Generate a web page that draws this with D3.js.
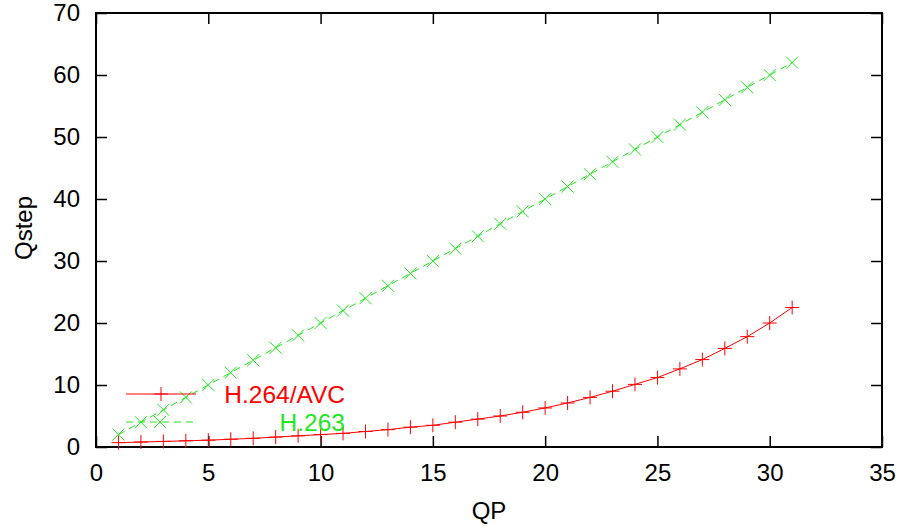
<!DOCTYPE html>
<html>
<head>
<meta charset="utf-8">
<script src="https://cdn.jsdelivr.net/npm/d3@7"></script>
<style>
  body { margin: 0; background: #fff; }
  svg { font-family: "Liberation Sans", Arial, sans-serif; }
</style>
</head>
<body>
<svg id="chart" width="900" height="526"></svg>
<script>
const qp = d3.range(1, 32);
const h264 = [0.7, 0.8, 0.9, 1.0, 1.1, 1.25, 1.4, 1.6, 1.8, 2.0, 2.2, 2.5, 2.8, 3.2, 3.5,
  4.0, 4.5, 5.0, 5.6, 6.3, 7.1, 8.0, 9.0, 10.1, 11.2, 12.6, 14.1, 15.9, 17.8, 20.0, 22.5];
const h263 = [2, 4, 6, 8, 10, 12, 14, 16, 18, 20, 22, 24, 26, 28, 30,
  32, 34, 36, 38, 40, 42, 44, 46, 48, 50, 52, 54, 56, 58, 60, 62];
const xTicks = [0, 5, 10, 15, 20, 25, 30, 35];
const yTicks = [0, 10, 20, 30, 40, 50, 60, 70];

const red = '#ff0000';
const green = '#1ee81e';
const plotLeft = 96, plotRight = 882, plotTop = 13, plotBottom = 447;
const svg = d3.select('#chart');

const x = d3.scaleLinear().domain([0, 35]).range([plotLeft, plotRight]);
const y = d3.scaleLinear().domain([0, 70]).range([plotBottom, plotTop]);

// axes, ticks pointing inward on all four sides
const tick = 11;
const styleAxis = g => {
  g.select('.domain').remove();
  g.selectAll('line').attr('stroke', '#000').attr('stroke-width', 1.5);
  g.selectAll('text').attr('fill', '#000').style('font-size', '24px');
};
svg.append('g').attr('transform', `translate(0,${plotBottom})`)
  .call(d3.axisBottom(x).tickValues(xTicks).tickSize(-tick).tickPadding(17))
  .call(styleAxis);
svg.append('g').attr('transform', `translate(0,${plotTop})`)
  .call(d3.axisTop(x).tickValues(xTicks).tickSize(-tick).tickFormat(''))
  .call(styleAxis);
svg.append('g').attr('transform', `translate(${plotLeft},0)`)
  .call(d3.axisLeft(y).tickValues(yTicks).tickSize(-tick).tickPadding(16))
  .call(styleAxis);
svg.append('g').attr('transform', `translate(${plotRight},0)`)
  .call(d3.axisRight(y).tickValues(yTicks).tickSize(-tick).tickFormat(''))
  .call(styleAxis);

svg.append('rect')
  .attr('x', plotLeft).attr('y', plotTop)
  .attr('width', plotRight - plotLeft).attr('height', plotBottom - plotTop)
  .attr('fill', 'none').attr('stroke', '#000').attr('stroke-width', 2);

svg.append('text')
  .attr('x', (plotLeft + plotRight) / 2).attr('y', 519)
  .attr('text-anchor', 'middle')
  .style('font-size', '24px')
  .text('QP');
svg.append('text')
  .attr('transform', 'translate(32,228) rotate(-90)')
  .attr('text-anchor', 'middle')
  .style('font-size', '24px')
  .text('Qstep');

// markers
const plus = (g, cx, cy, color) => {
  g.append('path')
    .attr('d', `M${cx - 7},${cy}H${cx + 7}M${cx},${cy - 7}V${cy + 7}`)
    .attr('stroke', color).attr('stroke-width', 1);
};
const cross = (g, cx, cy, color) => {
  g.append('path')
    .attr('d', `M${cx - 6},${cy - 6}L${cx + 6},${cy + 6}M${cx - 6},${cy + 6}L${cx + 6},${cy - 6}`)
    .attr('stroke', color).attr('stroke-width', 1);
};

const line = d3.line().x((d, i) => x(qp[i])).y(d => y(d));

svg.append('path').datum(h263)
  .attr('d', line).attr('fill', 'none')
  .attr('stroke', green).attr('stroke-width', 1).attr('stroke-dasharray', '7,5');
const g263 = svg.append('g');
h263.forEach((v, i) => cross(g263, x(qp[i]), y(v), green));

svg.append('path').datum(h264)
  .attr('d', line).attr('fill', 'none')
  .attr('stroke', red).attr('stroke-width', 1);
const g264 = svg.append('g');
h264.forEach((v, i) => plus(g264, x(qp[i]), y(v), red));

// legend
const legend = svg.append('g');
legend.append('line').attr('x1', 126).attr('x2', 196).attr('y1', 394).attr('y2', 394)
  .attr('stroke', red).attr('stroke-width', 1.2);
plus(legend, 161, 394, red);
legend.append('text').attr('x', 345).attr('y', 403).attr('text-anchor', 'end')
  .attr('fill', red).style('font-size', '24.5px').text('H.264/AVC');

legend.append('line').attr('x1', 126).attr('x2', 196).attr('y1', 422).attr('y2', 422)
  .attr('stroke', green).attr('stroke-width', 1.2).attr('stroke-dasharray', '7,5');
cross(legend, 160, 422, green);
legend.append('text').attr('x', 345).attr('y', 431).attr('text-anchor', 'end')
  .attr('fill', green).style('font-size', '24.5px').text('H.263');
</script>
</body>
</html>
